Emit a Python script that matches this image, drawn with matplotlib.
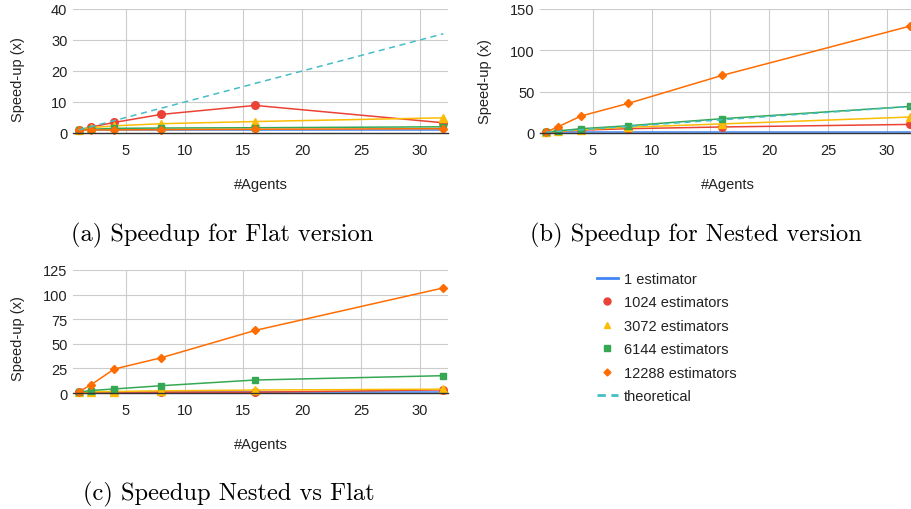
import matplotlib
matplotlib.use("Agg")
import matplotlib.pyplot as plt
from matplotlib.lines import Line2D

agents = [1, 2, 4, 8, 16, 32]

# (a) Flat version
flat_1 = [1, 1, 1, 1, 1, 1]
flat_1024 = [1, 1.9, 3.4, 6.0, 8.9, 3.3]
flat_3072 = [1, 1.7, 2.3, 3.0, 3.7, 4.9]
flat_6144 = [1, 1.2, 1.5, 1.6, 1.7, 2.0]
flat_12288 = [1, 1.0, 1.0, 1.1, 1.2, 1.4]
flat_theo = [1, 2, 4, 8, 16, 32]

# (b) Nested version
nest_1 = [1, 1, 1, 1, 1, 1]
nest_1024 = [1, 1.9, 3.5, 5.2, 7.3, 10.4]
nest_3072 = [1, 2.0, 4.0, 7.0, 11.0, 19.3]
nest_6144 = [1, 2.5, 5.2, 8.8, 17.3, 32.2]
nest_12288 = [1, 7.3, 20.6, 35.8, 69.7, 129.4]
nest_theo = [1, 2, 4, 8, 16, 32]

# (c) Nested vs Flat
nvf_1 = [1, 1, 1, 1, 1, 1]
nvf_1024 = [1, 1.0, 0.9, 0.9, 0.8, 3.2]
nvf_3072 = [1, 1.2, 1.5, 2.2, 3.0, 3.9]
nvf_6144 = [1, 2.5, 4.1, 7.4, 13.2, 17.6]
nvf_12288 = [1.3, 8.1, 24.3, 35.8, 63.6, 106.8]

series_labels = ["1 estimator", "1024 estimators", "3072 estimators",
                 "6144 estimators", "12288 estimators", "theoretical"]
captions = ["(a) Speedup for Flat version", "(b) Speedup for Nested version",
            "(c) Speedup Nested vs Flat"]
x_ticks = [5, 10, 15, 20, 25, 30]
y_ticks_a = [0, 10, 20, 30, 40]
y_ticks_b = [0, 50, 100, 150]
y_ticks_c = [0, 25, 50, 75, 100, 125]

C_BLUE = "#4285F4"
C_RED = "#EA4335"
C_YEL = "#FBBC04"
C_GRN = "#34A853"
C_ORG = "#FF6D01"
C_TEAL = "#46BDC6"

SANS = "Liberation Sans"
plt.rcParams["font.family"] = SANS
FS = 10.5

W, H = 912, 510
fig = plt.figure(figsize=(W / 100, H / 100), dpi=100)


def ax_px(left, top, right, bottom):
    return fig.add_axes([left / W, 1 - bottom / H, (right - left) / W, (bottom - top) / H])


def style(ax, yticks):
    ax.set_xlim(0.5, 32.4)
    ax.set_ylim(yticks[0], yticks[-1])
    ax.set_xticks(x_ticks)
    ax.set_yticks(yticks)
    for s in ["top", "right", "left"]:
        ax.spines[s].set_visible(False)
    ax.spines["bottom"].set_color("#333333")
    ax.spines["bottom"].set_linewidth(1.0)
    ax.spines["bottom"].set_zorder(5)
    ax.grid(True, color="#cccccc", linewidth=0.8)
    ax.set_axisbelow(True)
    ax.tick_params(length=0, labelsize=FS, labelcolor="#222222")
    ax.tick_params(axis="x", pad=7)
    ax.tick_params(axis="y", pad=4)


LW = 1.1


def draw(ax, s1, s1024, s3072, s6144, s12288, theo=None):
    ax.plot(agents, s1, color=C_BLUE, lw=LW, clip_on=False)
    ax.plot(agents, s1024, color=C_RED, lw=LW, marker="o", ms=5.5, clip_on=False)
    ax.plot(agents, s3072, color=C_YEL, lw=LW, marker="^", ms=5.5, clip_on=False)
    ax.plot(agents, s6144, color=C_GRN, lw=LW, marker="s", ms=5, clip_on=False)
    ax.plot(agents, s12288, color=C_ORG, lw=LW, marker="D", ms=4.2, clip_on=False)
    if theo is not None:
        ax.plot(agents, theo, color=C_TEAL, lw=LW, ls=(0, (4, 3)), clip_on=False)


axa = ax_px(73, 10, 448, 134)
style(axa, y_ticks_a)
draw(axa, flat_1, flat_1024, flat_3072, flat_6144, flat_12288, flat_theo)

axb = ax_px(540, 10, 915, 134)
style(axb, y_ticks_b)
draw(axb, nest_1, nest_1024, nest_3072, nest_6144, nest_12288, nest_theo)

axc = ax_px(73, 271, 448, 394)
style(axc, y_ticks_c)
draw(axc, nvf_1, nvf_1024, nvf_3072, nvf_6144, nvf_12288)

# axis titles
for (x, y) in [(18.5, 80), (485, 82), (18.5, 339)]:
    fig.text(x / W, 1 - y / H, "Speed-up (x)", rotation=90, ha="center", va="center",
             fontsize=FS, color="#222222")
for (x, y) in [(260.5, 185), (727.5, 185), (260.5, 445)]:
    fig.text(x / W, 1 - y / H, "#Agents", ha="center", va="center",
             fontsize=FS, color="#222222")

# captions
CFS = 17.6
fig.text(222 / W, 1 - 235 / H, captions[0], ha="center", va="center",
         fontsize=CFS, family="cmr10")
fig.text(696 / W, 1 - 235 / H, captions[1], ha="center", va="center",
         fontsize=CFS, family="cmr10")
fig.text(228.5 / W, 1 - 494 / H, captions[2], ha="center", va="center",
         fontsize=CFS, family="cmr10")

# legend
handles = [
    Line2D([], [], color=C_BLUE, lw=2),
    Line2D([], [], color=C_RED, lw=0, marker="o", ms=5),
    Line2D([], [], color=C_YEL, lw=0, marker="^", ms=4),
    Line2D([], [], color=C_GRN, lw=0, marker="s", ms=4),
    Line2D([], [], color=C_ORG, lw=0, marker="D", ms=3.5),
    Line2D([], [], color=C_TEAL, lw=2, ls=(0, (3, 2))),
]
fig.legend(handles, series_labels, loc="upper left",
           bbox_to_anchor=(597 / W, 1 - 273 / H), frameon=False,
           fontsize=FS, handlelength=1.44, handletextpad=0.4,
           labelspacing=0.65, borderpad=0, borderaxespad=0,
           labelcolor="#222222")

fig.savefig("out.png", dpi=100)
